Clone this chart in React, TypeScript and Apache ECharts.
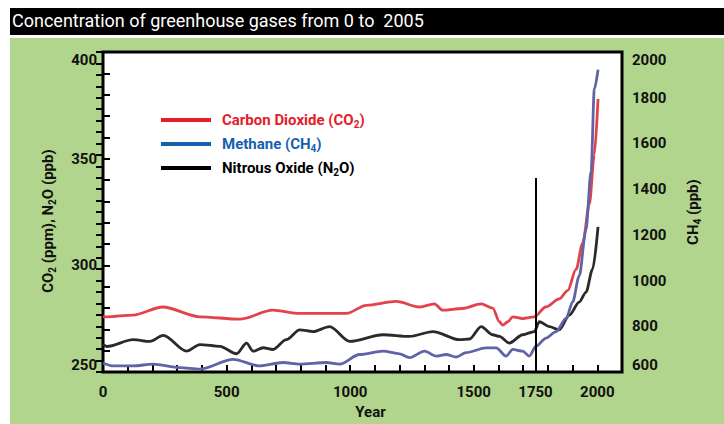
import React, { useEffect, useRef } from "react";
import * as echarts from "echarts";

const co2Years = [0, 16, 121, 242, 392, 553, 687, 796, 985, 1065, 1187, 1281, 1341, 1374, 1455, 1530, 1577, 1604, 1617, 1638, 1658, 1698, 1745, 1792, 1846, 1880, 1914, 1941, 1968, 1988, 2003];
const co2Values = [276, 275.9, 276.7, 280.5, 275.9, 274.8, 279, 277.5, 277.5, 281.3, 283.1, 280.5, 282, 279, 279.8, 282, 280, 273.6, 272, 273.6, 275.9, 275.1, 275.9, 280.5, 284.3, 288.2, 298.1, 310.4, 328.8, 351.8, 378];

const n2oYears = [0, 15, 122, 190, 244, 338, 392, 473, 540, 581, 607, 648, 688, 742, 796, 850, 917, 998, 1133, 1240, 1335, 1442, 1483, 1530, 1577, 1604, 1644, 1698, 1745, 1766, 1806, 1846, 1887, 1927, 1954, 1981, 2003];
const n2oValues = [263, 262, 265.2, 264.4, 267.2, 259.8, 262.9, 262.1, 258.6, 263.6, 259.8, 261.4, 260.6, 265.2, 269.8, 269, 271.3, 264.4, 267.5, 266.7, 269, 265.2, 265.5, 271.3, 267.5, 266.7, 263.6, 267.5, 269, 273.6, 271.3, 269.8, 276.7, 282.8, 287.4, 298.2, 318.1];

const ch4Years = [0, 42, 121, 203, 311, 392, 526, 634, 728, 796, 904, 958, 1038, 1133, 1200, 1240, 1301, 1348, 1388, 1429, 1469, 1550, 1591, 1631, 1658, 1698, 1725, 1752, 1793, 1833, 1874, 1900, 1927, 1954, 1975, 1988, 2003];
const ch4Values = [640, 627, 627, 635, 620, 613, 656, 627, 642, 635, 642, 635, 677, 692, 680, 663, 692, 670, 677, 666, 685, 706, 706, 670, 699, 692, 670, 713, 749, 777, 835, 906, 1021, 1221, 1479, 1837, 1923];

const xLabelValues = [0, 500, 1000, 1500, 1750, 2000];
const industrialYear = 1750;

const seriesNames = ["Carbon Dioxide (CO2)", "Methane (CH4)", "Nitrous Oxide (N2O)"];

const FONT = "Roboto, 'Noto Sans', sans-serif";

export default function App() {
  const ref = useRef<HTMLDivElement>(null);
  useEffect(() => {
    if (!ref.current) return;
    const chart = echarts.init(ref.current, null, { renderer: "svg" });
    const pair = (xs: number[], ys: number[]) => xs.map((x, i) => [x, ys[i]]);
    const labelStyle = { fontFamily: FONT, fontWeight: "bold", fontSize: 15, color: "#111" };
    const tickStyle = { show: true, inside: true, length: 7, lineStyle: { color: "#000", width: 2 } };
    const sub = (c: string) => ({ fontFamily: FONT, fontWeight: "bold", fontSize: 10, color: c, verticalAlign: "top", lineHeight: 10, padding: [8, 0, 0, 0] });
    const main = (c: string) => ({ fontFamily: FONT, fontWeight: "bold", fontSize: 15, color: c, lineHeight: 18 });
    const option: any = {
      animation: false,
      backgroundColor: "#ffffff",
      title: {
        text: "Concentration of greenhouse gases from 0 to  2005",
        left: 12,
        top: 11,
        padding: 0,
        textStyle: { color: "#fff", fontFamily: FONT, fontWeight: "normal", fontSize: 18 },
      },
      graphic: [
        { type: "rect", z: -10, shape: { x: 10, y: 8, width: 714, height: 27 }, style: { fill: "#000" } },
        { type: "rect", z: -10, shape: { x: 10, y: 38, width: 714, height: 386 }, style: { fill: "#b1d58c" } },
      ],
      grid: {
        show: true,
        left: 103,
        right: 102,
        top: 52,
        bottom: 46,
        backgroundColor: "#fff",
        borderColor: "#000",
        borderWidth: 3,
      },
      legend: {
        orient: "vertical",
        left: 156,
        top: 106,
        itemWidth: 50,
        itemHeight: 4,
        itemGap: 6,
        icon: "rect",
        textStyle: {
          padding: [0, 0, 0, 6],
          rich: {
            r: main("#e3202a"), rs: sub("#e3202a"),
            b: main("#1561ae"), bs: sub("#1561ae"),
            k: main("#000"), ks: sub("#000"),
          },
        },
        formatter: (name: string) => {
          if (name === seriesNames[0]) return "{r|Carbon Dioxide (CO}{rs|2}{r|)}";
          if (name === seriesNames[1]) return "{b|Methane (CH}{bs|4}{b|)}";
          return "{k|Nitrous Oxide (N}{ks|2}{k|O)}";
        },
        data: [
          { name: seriesNames[0], itemStyle: { color: "#e3202a" } },
          { name: seriesNames[1], itemStyle: { color: "#1561ae" } },
          { name: seriesNames[2], itemStyle: { color: "#000" } },
        ],
      },
      xAxis: [
        {
          type: "value", min: 0, max: 2100, interval: 100,
          axisLine: { show: false }, axisTick: tickStyle, axisLabel: { show: false }, splitLine: { show: false },
        },
        {
          type: "value", min: 0, max: 2100, interval: 50, position: "bottom",
          axisLine: { show: false }, axisTick: { show: false }, splitLine: { show: false },
          axisLabel: {
            ...labelStyle, margin: 12,
            formatter: (v: number) => (xLabelValues.includes(v) ? String(v) : ""),
          },
          name: "Year", nameLocation: "middle", nameGap: 31,
          nameTextStyle: { ...labelStyle, padding: [0, 0, 0, 16] },
        },
      ],
      yAxis: [
        {
          type: "value", min: 250, max: 400, interval: 10, position: "left",
          axisLine: { show: false }, axisTick: tickStyle, splitLine: { show: false },
          axisLabel: {
            ...labelStyle, margin: 6,
            verticalAlignMinLabel: "bottom", verticalAlignMaxLabel: "top",
            formatter: (v: number) => (v % 50 === 0 ? String(v) : ""),
          },
          name: "{n|CO}{s|2}{n| (ppm), N}{s|2}{n|O (ppb)}",
          nameLocation: "middle", nameRotate: 90, nameGap: 46,
          nameTextStyle: { padding: [0, 18, 0, 0], rich: { n: main("#111"), s: sub("#111") } },
        },
        {
          type: "value", min: 600, max: 2000, interval: 50, position: "right",
          axisLine: { show: false }, axisTick: tickStyle, splitLine: { show: false },
          axisLabel: {
            ...labelStyle, margin: 10,
            verticalAlignMinLabel: "bottom", verticalAlignMaxLabel: "top",
            formatter: (v: number) => (v % 200 === 0 ? String(v) : ""),
          },
          name: "{n|CH}{s|4}{n| (ppb)}",
          nameLocation: "middle", nameRotate: 90, nameGap: 62,
          nameTextStyle: { rich: { n: main("#111"), s: sub("#111") } },
        },
      ],
      series: [
        {
          name: seriesNames[0], type: "line", xAxisIndex: 0, yAxisIndex: 0,
          data: pair(co2Years, co2Values), showSymbol: false, smooth: 0.3, smoothMonotone: "x",
          lineStyle: { color: "#e4424a", width: 2.8 }, itemStyle: { color: "#e4424a" },
        },
        {
          name: seriesNames[2], type: "line", xAxisIndex: 0, yAxisIndex: 0,
          data: pair(n2oYears, n2oValues), showSymbol: false, smooth: 0.3, smoothMonotone: "x",
          lineStyle: { color: "#2a2a2a", width: 2.8 }, itemStyle: { color: "#2a2a2a" },
          markLine: {
            silent: true, symbol: "none", label: { show: false },
            lineStyle: { color: "#000", width: 2, type: "solid" },
            data: [[{ coord: [industrialYear, 250] }, { coord: [industrialYear, 341] }]],
          },
        },
        {
          name: seriesNames[1], type: "line", xAxisIndex: 0, yAxisIndex: 1,
          data: pair(ch4Years, ch4Values), showSymbol: false, smooth: 0.3, smoothMonotone: "x",
          lineStyle: { color: "#5f64a6", width: 2.8 }, itemStyle: { color: "#5f64a6" },
        },
      ],
    };
    chart.setOption(option);
    return () => chart.dispose();
  }, []);
  return <div ref={ref} style={{ position: "absolute", left: 0, top: 0, width: 724, height: 424 }} />;
}
